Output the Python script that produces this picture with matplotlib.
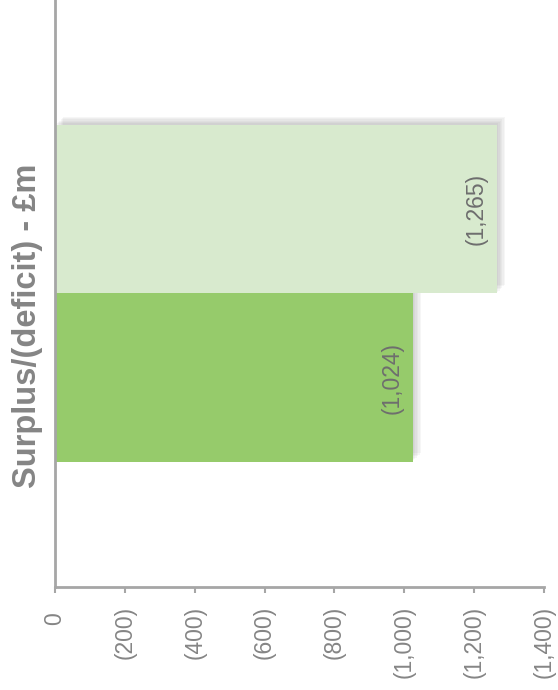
import matplotlib.pyplot as plt
import matplotlib.patheffects as pe
from matplotlib.ticker import FuncFormatter

plt.rcParams['font.family'] = ['Liberation Sans', 'DejaVu Sans']

# deficits in £m (shown as positive magnitudes, labelled in brackets)
periods = ["later", "earlier"]
deficit = [1024, 1265]
bar_colors = ["#96cb6b", "#d8eace"]
ticks = [0, 200, 400, 600, 800, 1000, 1200, 1400]

grey = "#a6a6a6"
text_grey = "#858585"


def bracket(v, pos=None):
    # zero keeps a trailing pad so it lines up with the bracketed values
    return "0 " if v == 0 else f"({v:,.0f})"


fig = plt.figure(figsize=(5.58, 6.9), dpi=100)
ax = fig.add_axes([55 / 558, 103 / 690, 489 / 558, 587 / 690])

# soft shadow up and to the right of each bar
shadow = [pe.SimplePatchShadow(offset=(k, k), shadow_rgbFace="#707070", alpha=0.06)
          for k in range(1, 7)] + [pe.Normal()]
bars = ax.barh(range(len(periods)), deficit, height=1.0, color=bar_colors,
               zorder=2, path_effects=shadow)

for b, v in zip(bars, deficit):
    ax.annotate(bracket(v), xy=(v, b.get_y() + b.get_height() / 2),
                xytext=(-21, 0), textcoords="offset pixels",
                rotation=90, ha="center", va="center",
                fontsize=16.5, color="#6e6e6e", zorder=3)

ax.set_xlim(0, 1400)
ax.set_ylim(-1.243, 2.241)
ax.set_xticks(ticks)
ax.xaxis.set_major_formatter(FuncFormatter(bracket))
ax.set_yticks([])
ax.tick_params(axis="x", length=4.5, width=1.5, color=grey, pad=9,
               labelsize=16.5, labelcolor=text_grey, labelrotation=90)
for lbl in ax.get_xticklabels():
    lbl.set_va("top")
    lbl.set_ha("center")

for side in ["top", "right"]:
    ax.spines[side].set_visible(False)
for side in ["left", "bottom"]:
    ax.spines[side].set_color(grey)
    ax.spines[side].set_linewidth(2)

fig.text(28 / 558, 1 - 326 / 690, "Surplus/(deficit) - £m", rotation=90,
         ha="center", va="center", fontsize=23.5, fontweight="bold",
         color=text_grey)

fig.savefig("out.png", dpi=100)
